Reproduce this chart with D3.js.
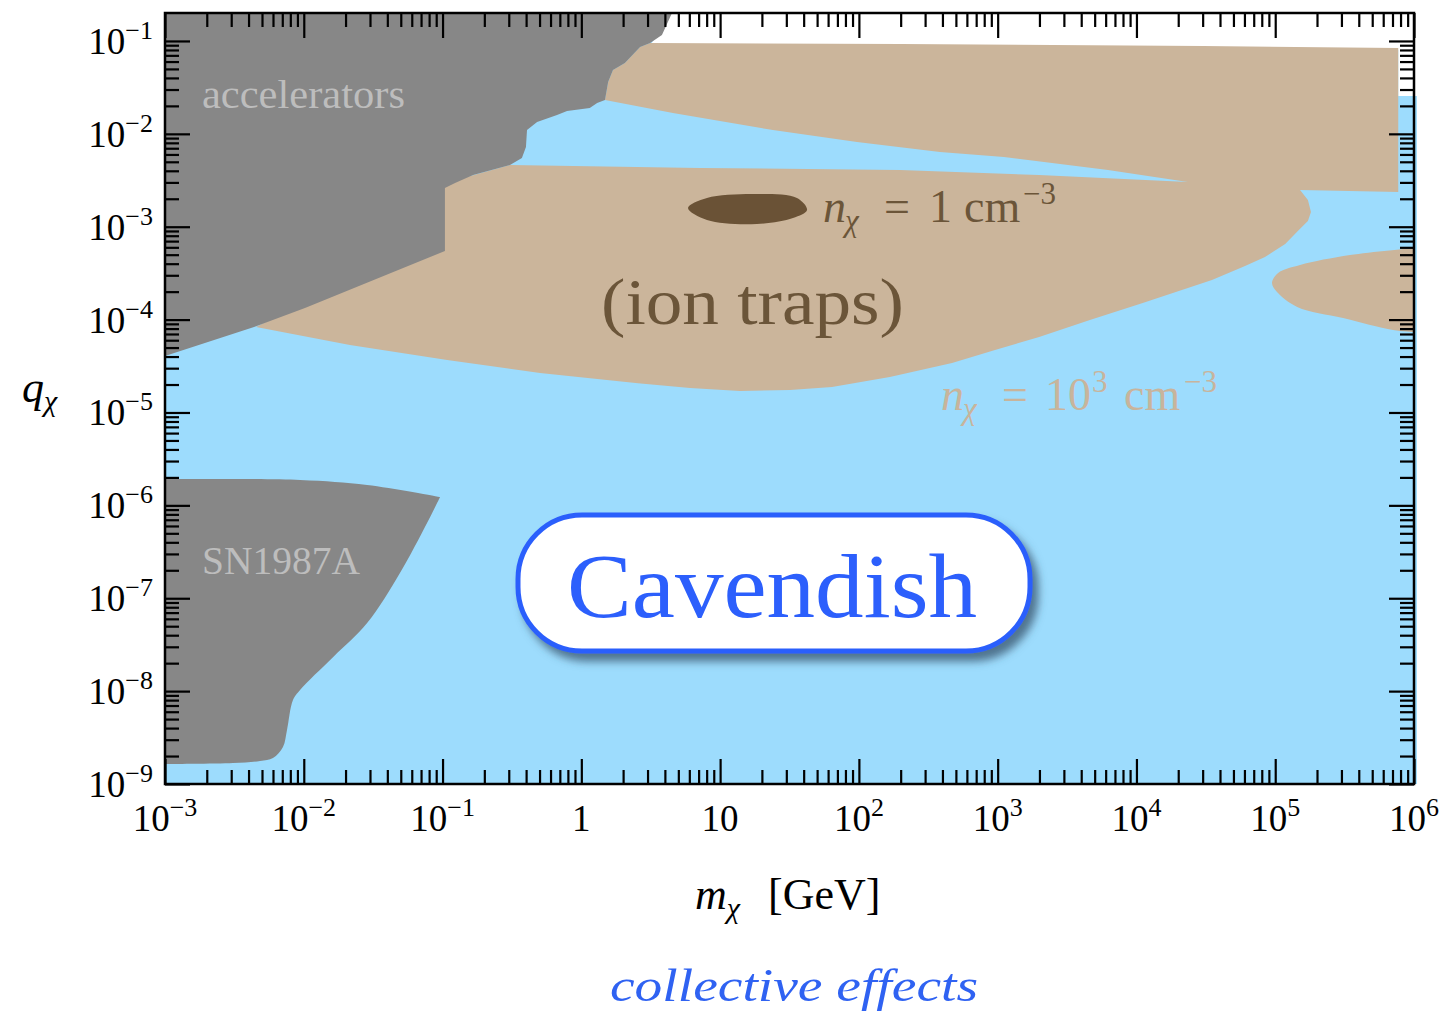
<!DOCTYPE html>
<html>
<head>
<meta charset="utf-8">
<script src="https://cdn.jsdelivr.net/npm/d3@7"></script>
<style>
  body { margin: 0; background: #fff; }
  svg text { font-family: "Liberation Serif", "Times New Roman", serif; }
</style>
</head>
<body>
<svg id="chart" width="1444" height="1016"></svg>
<script>
// ---- axis ticks / labels ----
const xDecades = [1e-3, 1e-2, 1e-1, 1, 10, 1e2, 1e3, 1e4, 1e5, 1e6];
const xTickLabels = [["10", "−3"], ["10", "−2"], ["10", "−1"], ["1", ""], ["10", ""],
                     ["10", "2"], ["10", "3"], ["10", "4"], ["10", "5"], ["10", "6"]];
const yDecades = [1e-9, 1e-8, 1e-7, 1e-6, 1e-5, 1e-4, 1e-3, 1e-2, 1e-1];
const yTickLabels = [["10", "−9"], ["10", "−8"], ["10", "−7"], ["10", "−6"], ["10", "−5"],
                     ["10", "−4"], ["10", "−3"], ["10", "−2"], ["10", "−1"]];

// ---- regions, [m_chi (GeV), q_chi] ----
// light blue: collective effects reach (Cavendish)
const collectiveRegion = [[1e-3, 0.2], [4.5, 0.2], [3.13, 0.09], [200, 0.088], [3e4, 0.084],
  [7.7e5, 0.08], [7.7e5, 0.0255], [1.05e6, 0.0255], [1.05e6, 1e-9], [1e-3, 1e-9]];

// tan: ion traps
const ionTraps = [[1.48, 0.0231], [1.56, 0.0361], [1.69, 0.0487], [2.06, 0.058], [2.65, 0.086],
  [3.13, 0.095], [200, 0.093], [3e4, 0.088], [7.7e5, 0.084], [7.7e5, 0.00237],
  [1.51e5, 0.00248], [1.72e5, 0.00194], [1.81e5, 0.00144], [1.72e5, 0.00115], [1.48e5, 0.000923],
  [1.18e5, 0.000652], [8.44e4, 0.000472], [6.06e4, 0.000378], [3.5e4, 0.000267],
  [1.11e4, 0.000151], [4620, 9.9e-5], [1990, 6.5e-5], [957, 4.71e-5], [469, 3.41e-5],
  [167, 2.41e-5], [64, 1.88e-5], [31.9, 1.75e-5], [13.9, 1.7e-5], [6.07, 1.84e-5],
  [2.56, 2.07e-5], [0.504, 2.66e-5], [0.108, 3.67e-5], [0.0215, 5.32e-5], [0.00453, 8.32e-5],
  [0.0687, 0.00072], [0.0687, 0.00248],
  [0.306, 0.00461], [7.16, 0.00429], [198, 0.00408], [1990, 0.0036], [2.35e4, 0.00303],
  [6240, 0.00408], [1110, 0.00563], [384, 0.00637], [96.9, 0.00817], [24, 0.011], [4.57, 0.0168]];

const ionTrapsLobe = [[1e6, 0.00059], [3.46e5, 0.000495], [1.51e5, 0.000387], [1.05e5, 0.000318],
  [9.48e4, 0.000248], [1.03e5, 0.000198], [1.44e5, 0.000137], [3.08e5, 0.000104],
  [7.06e5, 7.73e-5], [1e6, 7.35e-5]];

// dark brown: n_chi = 1 cm^-3
const density1 = [[5.87, 0.00159], [8.04, 0.00204], [18.4, 0.00225], [35.8, 0.00204],
  [42.3, 0.00151], [33.5, 0.00124], [18.4, 0.00107], [8.04, 0.00118]];

// grey: accelerators, SN1987A
const accelerators = [[1e-3, 0.2], [4.5, 0.2], [3.81, 0.116], [3.13, 0.095], [2.65, 0.086],
  [2.06, 0.058], [1.69, 0.0487], [1.56, 0.0361], [1.48, 0.0231], [1.30, 0.0215], [1.15, 0.019],
  [0.789, 0.0176], [0.668, 0.016], [0.48, 0.0134], [0.406, 0.011], [0.399, 0.00721],
  [0.373, 0.0055], [0.306, 0.00461], [0.166, 0.0036], [0.123, 0.00296], [0.104, 0.00261],
  [0.104, 0.000548], [0.0102, 0.000133], [0.00438, 8.32e-5], [1e-3, 4.06e-5]];

// top edge (first 4 points) then the right-hand boundary from the corner down
const sn1987a = [[1e-3, 1.92e-6], [0.0094, 1.88e-6], [0.0286, 1.66e-6], [0.096, 1.23e-6],
  [0.0773, 6.46e-7], [0.0493, 1.87e-7], [0.0286, 5.41e-8], [0.0163, 2.33e-8], [0.0094, 1.03e-8],
  [0.00836, 8.03e-9], [0.00757, 3.82e-9], [0.00708, 2.51e-9], [0.006, 1.91e-9],
  [0.00484, 1.77e-9], [0.00309, 1.68e-9], [1e-3, 1.64e-9]];

// ---- layout ----
const plotLeft = 165, plotRight = 1414, plotTop = 13, plotBottom = 784;

const svg = d3.select("#chart");

const x = d3.scaleLog().domain([1e-3, 1e6]).range([plotLeft, plotRight]);
const y = d3.scaleLog().domain([1e-9, 0.2]).range([plotBottom, plotTop]);

const area = d3.line().x(d => x(d[0])).y(d => y(d[1])).curve(d3.curveLinearClosed);
const smoothLine = d3.line().x(d => x(d[0])).y(d => y(d[1])).curve(d3.curveCatmullRom);
// smooth outline, closed back along the plot edge with a straight line
const smoothArea = pts => smoothLine(pts) + "Z";

const defs = svg.append("defs");
defs.append("filter").attr("id", "shadow")
    .attr("x", "-10%").attr("y", "-20%").attr("width", "130%").attr("height", "160%")
  .append("feDropShadow")
    .attr("dx", 6).attr("dy", 8).attr("stdDeviation", 4)
    .attr("flood-color", "#34526a").attr("flood-opacity", 0.75);

// regions
svg.append("path").attr("d", area(collectiveRegion)).attr("fill", "#9ddcfd");
svg.append("path").attr("d", area(ionTraps)).attr("fill", "#cbb59b");
svg.append("path").attr("d", smoothArea(ionTrapsLobe)).attr("fill", "#cbb59b");
svg.append("path")
    .attr("d", d3.line().x(d => x(d[0])).y(d => y(d[1])).curve(d3.curveCatmullRomClosed)(density1))
    .attr("fill", "#6a5236");
svg.append("path").attr("d", area(accelerators)).attr("fill", "#878787");
// SN1987A: sharp corner where the top edge meets the right boundary
svg.append("path")
    .attr("d", smoothLine(sn1987a.slice(0, 4)) + smoothLine(sn1987a.slice(3)).replace(/^M/, "L") + "Z")
    .attr("fill", "#878787");

// region labels
svg.append("text").attr("x", 202).attr("y", 108)
    .attr("font-size", 39).attr("fill", "#bdbdbd")
    .attr("textLength", 203).attr("lengthAdjust", "spacingAndGlyphs")
    .text("accelerators");
svg.append("text").attr("x", 202).attr("y", 574)
    .attr("font-size", 39).attr("fill", "#bdbdbd")
    .attr("textLength", 158).attr("lengthAdjust", "spacingAndGlyphs")
    .text("SN1987A");
svg.append("text").attr("x", 601).attr("y", 324)
    .attr("font-size", 66).attr("fill", "#6b5539")
    .attr("textLength", 303).attr("lengthAdjust", "spacingAndGlyphs")
    .text("(ion traps)");

// n_chi labels, pieces placed one by one
function densityLabel(parts, baseline, color) {
  const t = svg.append("text").attr("y", baseline).attr("fill", color).attr("font-size", 46);
  parts.forEach(p => {
    const s = t.append("tspan").attr("x", p.x).text(p.t);
    if (p.italic) s.attr("font-style", "italic");
    if (p.sub) s.attr("font-size", 31).attr("y", baseline + 9);
    else if (p.sup) s.attr("font-size", 31).attr("y", baseline - 18);
    else s.attr("y", baseline);
  });
}
densityLabel([
  { t: "n", x: 823, italic: true }, { t: "χ", x: 845, italic: true, sub: true },
  { t: "=", x: 884 }, { t: "1", x: 929 }, { t: "cm", x: 964 }, { t: "−3", x: 1023, sup: true }
], 222, "#6b5539");
densityLabel([
  { t: "n", x: 941, italic: true }, { t: "χ", x: 963, italic: true, sub: true },
  { t: "=", x: 1002 }, { t: "10", x: 1045 }, { t: "3", x: 1092, sup: true },
  { t: "cm", x: 1124 }, { t: "−3", x: 1184, sup: true }
], 410, "#c8b49c");

// Cavendish badge
svg.append("rect")
    .attr("x", 518).attr("y", 515).attr("width", 512).attr("height", 136).attr("rx", 64)
    .attr("fill", "#fff").attr("stroke", "#2c5ffc").attr("stroke-width", 5)
    .attr("filter", "url(#shadow)");
svg.append("text").attr("x", 772).attr("y", 617).attr("text-anchor", "middle")
    .attr("font-size", 92).attr("fill", "#2c5ffc")
    .attr("textLength", 410).attr("lengthAdjust", "spacingAndGlyphs")
    .text("Cavendish");

// ---- axes ----
const xMinor = [], yMinor = [];
d3.range(-3, 6).forEach(e => d3.range(2, 10).forEach(k => xMinor.push(k * Math.pow(10, e))));
d3.range(-9, 0).forEach(e => d3.range(2, 10).forEach(k => {
  const v = k * Math.pow(10, e);
  if (v < 0.2) yMinor.push(v);
}));

function ticks(axis, values, size, transform) {
  svg.append("g").attr("transform", transform)
      .call(axis.tickValues(values).tickSize(-size).tickFormat(""))
      .call(g => g.select(".domain").remove())
      .call(g => g.selectAll("line").attr("stroke", "#000").attr("stroke-width", 2.2));
}
ticks(d3.axisBottom(x), xDecades, 25, `translate(0,${plotBottom})`);
ticks(d3.axisBottom(x), xMinor, 14, `translate(0,${plotBottom})`);
ticks(d3.axisTop(x), xDecades, 25, `translate(0,${plotTop})`);
ticks(d3.axisTop(x), xMinor, 14, `translate(0,${plotTop})`);
ticks(d3.axisLeft(y), yDecades, 25, `translate(${plotLeft},0)`);
ticks(d3.axisLeft(y), yMinor, 14, `translate(${plotLeft},0)`);
ticks(d3.axisRight(y), yDecades, 25, `translate(${plotRight},0)`);
ticks(d3.axisRight(y), yMinor, 14, `translate(${plotRight},0)`);

svg.append("rect").attr("x", plotLeft).attr("y", plotTop)
    .attr("width", plotRight - plotLeft).attr("height", plotBottom - plotTop)
    .attr("fill", "none").attr("stroke", "#000").attr("stroke-width", 2.5);

// tick labels with superscripts
xDecades.forEach((v, i) => {
  const t = svg.append("text").attr("x", x(v)).attr("y", 831)
      .attr("text-anchor", "middle").attr("font-size", 37).attr("fill", "#000");
  t.append("tspan").text(xTickLabels[i][0]);
  if (xTickLabels[i][1]) t.append("tspan").attr("font-size", 26).attr("dy", -15).text(xTickLabels[i][1]);
});
yDecades.forEach((v, i) => {
  const t = svg.append("text").attr("x", 153).attr("y", y(v) + 13)
      .attr("text-anchor", "end").attr("font-size", 37).attr("fill", "#000");
  t.append("tspan").text(yTickLabels[i][0]);
  t.append("tspan").attr("font-size", 26).attr("dy", -15).text(yTickLabels[i][1]);
});

// axis titles
const qt = svg.append("text").attr("x", 22).attr("y", 402).attr("font-size", 44).attr("fill", "#000");
qt.append("tspan").attr("font-style", "italic").text("q");
qt.append("tspan").attr("font-style", "italic").attr("font-size", 30).attr("dy", 9).text("χ");

const mt = svg.append("text").attr("x", 695).attr("y", 909).attr("font-size", 44).attr("fill", "#000");
mt.append("tspan").attr("font-style", "italic").text("m");
mt.append("tspan").attr("font-style", "italic").attr("font-size", 30).attr("dy", 9).text("χ");
mt.append("tspan").attr("x", 768).attr("dy", -9).text("[GeV]");

svg.append("text").attr("x", 610).attr("y", 1001)
    .attr("font-size", 46).attr("font-style", "italic").attr("fill", "#2f62f2")
    .attr("textLength", 368).attr("lengthAdjust", "spacingAndGlyphs")
    .text("collective effects");
</script>
</body>
</html>
